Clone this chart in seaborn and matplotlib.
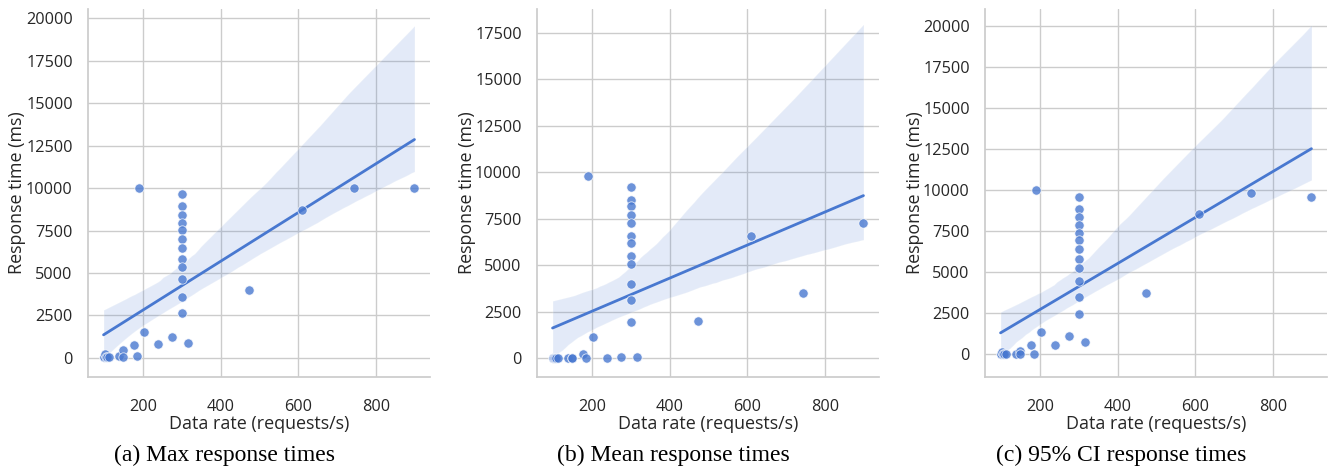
import matplotlib
matplotlib.use("Agg")
import matplotlib.pyplot as plt
from matplotlib.ticker import MultipleLocator
import seaborn as sns
import pandas as pd
import numpy as np

# Data rate (requests/s), shared by all panels
data_rate = [99, 100, 103, 105, 108, 114, 138, 150, 150, 178, 185, 191, 204, 238, 275, 317,
             300, 302, 302, 300, 300, 300, 300, 300, 300, 300, 300, 300,
             474, 609, 744, 899]

# Response times (ms)
max_rt = [40, 60, 250, 40, 50, 60, 100, 450, 40, 760, 100, 10000, 1510, 840, 1250, 880,
          9650, 8950, 8400, 7950, 7550, 7000, 6450, 5850, 5350, 4620, 3600, 2620,
          3980, 8730, 10000, 10000]
mean_rt = [0, 0, 20, 0, 0, 0, 0, 0, 0, 250, 0, 9800, 1160, 0, 90, 100,
           9230, 8510, 8170, 7710, 7260, 6560, 6180, 5480, 5050, 3980, 3120, 1970,
           2000, 6560, 3530, 7260]
ci95_rt = [20, 40, 140, 20, 30, 20, 20, 200, 0, 570, 20, 10000, 1360, 590, 1100, 750,
           9590, 8860, 8340, 7850, 7380, 6960, 6430, 5820, 5250, 4480, 3510, 2430,
           3730, 8520, 9800, 9590]

captions = ["(a) Max response times", "(b) Mean response times",
            "(c) 95% CI response times"]
series = [max_rt, mean_rt, ci95_rt]
xlabel = "Data rate (requests/s)"
ylabel = "Response time (ms)"

# Band extents seen in the reference (top/bottom at low end, top/bottom at high end)
band_targets = [(3100, -130, 19550, 11060),
                (3130, -100, 17880, 6270),
                (2550, -360, 20010, 10530)]
# Visible y-range of each panel in the reference
ylims = [(-1118, 20530), (-1000, 18780), (-1380, 21030)]

sns.set_theme(style="whitegrid", palette="muted")
plt.rcParams['font.family'] = ['Open Sans', 'DejaVu Sans']

color = sns.color_palette("muted")[0]
TXT = "#262626"
SERIF = ["Liberation Serif", "DejaVu Serif"]


def band_extents(df, seed, scratch):
    scratch.cla()
    sns.regplot(data=df, x="rate", y="rt", ax=scratch, scatter=False, seed=seed)
    v = scratch.collections[0].get_paths()[0].vertices
    xs, ys = v[:, 0], v[:, 1]
    lo = np.isclose(xs, xs.min())
    hi = np.isclose(xs, xs.max())
    return ys[lo].max(), ys[lo].min(), ys[hi].max(), ys[hi].min()


def pick_seed(df, target, scratch, n=60):
    best, best_score = 0, None
    w = np.array([1.0, 0.5, 2.0, 1.0])
    for s in range(n):
        e = np.array(band_extents(df, s, scratch))
        score = float(np.sum(w * (e - np.array(target)) ** 2))
        if best_score is None or score < best_score:
            best, best_score = s, score
    return best


sfig, sax = plt.subplots()
frames = [pd.DataFrame({"rate": data_rate, "rt": ys}) for ys in series]
seeds = [pick_seed(df, t, sax) for df, t in zip(frames, band_targets)]
plt.close(sfig)

W, H = 1335, 468
fig = plt.figure(figsize=(W / 100, H / 100), dpi=100)
renderer = fig.canvas.get_renderer()


def fit_size(text, target_px, family=None, base=12.0):
    t = fig.text(0, 0, text, fontsize=base, family=family)
    w = t.get_window_extent(renderer).width
    t.remove()
    return base * target_px / w


tick_fs = fit_size("20000", 46.7)
label_fs = fit_size(xlabel, 179)
cap_fs = fit_size(captions[0], 221.5, family=SERIF)

lefts = [88, 537, 985]
ax_w = 342
ax_top, ax_bot = 9, 377
ax_h = ax_bot - ax_top
cap_centers = [225, 673, 1121]

for i, (df, cap) in enumerate(zip(frames, captions)):
    ax = fig.add_axes([lefts[i] / W, (H - ax_bot) / H, ax_w / W, ax_h / H])
    sns.scatterplot(data=df, x="rate", y="rt", ax=ax, color=color, alpha=0.8,
                    s=45, edgecolor="white", linewidth=0.6, zorder=3)
    sns.regplot(data=df, x="rate", y="rt", ax=ax, scatter=False, color=color,
                seed=seeds[i], line_kws={"linewidth": 2})
    ax.set_ylim(*ylims[i])
    ax.yaxis.set_major_locator(MultipleLocator(2500))
    ax.xaxis.set_major_locator(MultipleLocator(200))
    ax.set_xlabel(xlabel, fontsize=label_fs, color=TXT)
    ax.set_ylabel(ylabel, fontsize=label_fs, color=TXT)
    ax.xaxis.label.set_va("baseline")
    ax.yaxis.label.set_va("baseline")
    ax.xaxis.set_label_coords(0.5, (ax_bot - 429) / ax_h)
    ax.yaxis.set_label_coords(-65.5 / ax_w, 0.5)
    ax.tick_params(axis="both", labelsize=tick_fs, colors=TXT)
    ax.tick_params(axis="y", pad=5)
    ax.tick_params(axis="x", pad=9.5)
    sns.despine(ax=ax)
    fig.text(cap_centers[i] / W, (H - 461) / H, cap, ha="center", va="baseline",
             fontsize=cap_fs, family=SERIF, color="black")

fig.savefig("out.png", dpi=100)
